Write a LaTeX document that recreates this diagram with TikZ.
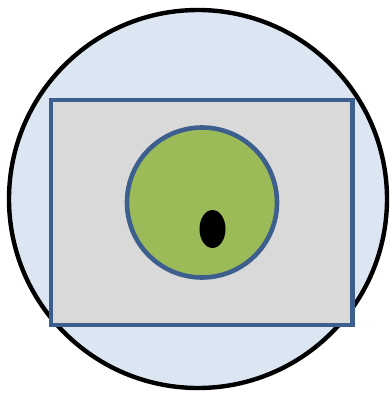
\documentclass[tikz,border=0pt]{standalone}
\usetikzlibrary{shapes.geometric}
\definecolor{skyfill}{HTML}{DCE6F2}
\definecolor{boxfill}{HTML}{D9D9D9}
\definecolor{cellfill}{HTML}{9BBB59}
\definecolor{edgeblue}{HTML}{3C5F8E}
\begin{document}
\begin{tikzpicture}[x=1pt, y=-1pt, inner sep=0pt, outer sep=0pt]
        \useasboundingbox (0,0) rectangle (390,399);
        % Outer disc
        \node (world) [draw, circle, line width=4.4pt, fill=skyfill, minimum size=378pt] at (198,199) {};
        % Box inside the disc
        \node (box) [draw=edgeblue, rectangle, line width=4.6pt, fill=boxfill, minimum width=301.5pt, minimum height=225pt] at (201.75,212.5) {};
        % Green cell and its dot
        \node (cell) [draw=edgeblue, circle, line width=4.6pt, fill=cellfill, minimum size=150pt] at (202,202.5) {};
        \node (dot) [ellipse, fill=black, minimum width=26pt, minimum height=38pt] at (212.5,229) {};
    \end{tikzpicture}
\end{document}
